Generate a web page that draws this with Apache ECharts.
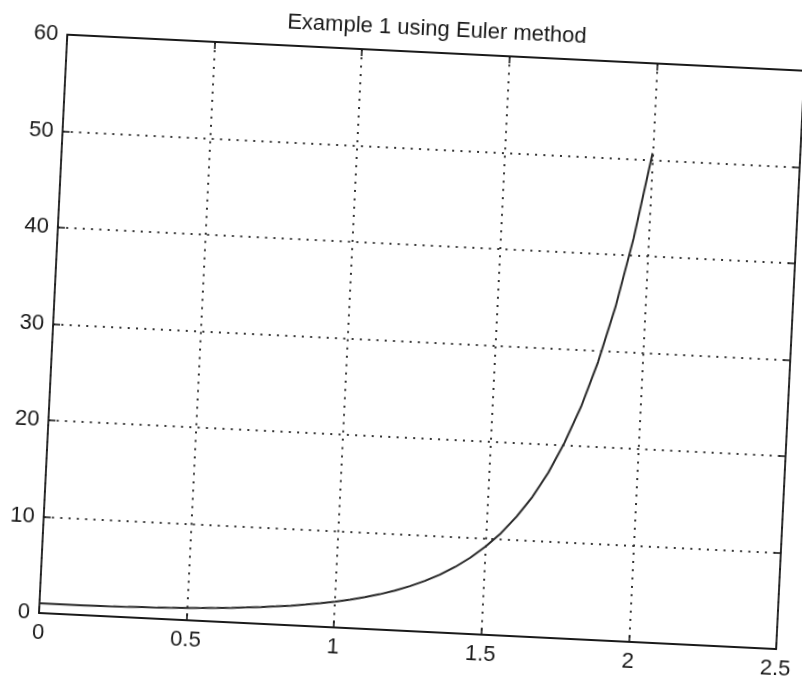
<!DOCTYPE html>
<html>
<head>
<meta charset="utf-8">
<title>Example 1 using Euler method</title>
<script src="https://cdn.jsdelivr.net/npm/echarts@6/dist/echarts.min.js"></script>
<style>
  html, body { margin: 0; padding: 0; background: #ffffff; overflow: hidden; }
  #chart {
    position: absolute; left: 0; top: 0;
    width: 802px; height: 683px;
    transform-origin: 39px 613px;
    transform: rotate(2.8deg);
  }
</style>
</head>
<body>
<div id="chart"></div>
<script>
// Euler solution samples: x and y
const xValues = [0, 0.05, 0.1, 0.15, 0.2, 0.25, 0.3, 0.35, 0.4, 0.45,
                 0.5, 0.55, 0.6, 0.65, 0.7, 0.75, 0.8, 0.85, 0.9, 0.95,
                 1.0, 1.05, 1.1, 1.15, 1.2, 1.25, 1.3, 1.35, 1.4, 1.45,
                 1.5, 1.55, 1.6, 1.65, 1.7, 1.75, 1.8, 1.85, 1.9, 1.95, 2.0];
const yValues = [1.00, 1.00, 1.01, 1.02, 1.04, 1.06, 1.09, 1.13, 1.17, 1.22,
                 1.28, 1.34, 1.42, 1.51, 1.62, 1.74, 1.88, 2.03, 2.22, 2.43,
                 2.67, 2.96, 3.29, 3.67, 4.12, 4.65, 5.27, 6.00, 6.87, 7.90,
                 9.14, 10.6, 12.4, 14.5, 17.1, 20.3, 24.1, 28.8, 34.6, 41.8, 50.7];

const xTicks = [0, 0.5, 1, 1.5, 2, 2.5];
const yTicks = [0, 10, 20, 30, 40, 50, 60];
const titleText = 'Example 1 using Euler method';

const FONT = '"Liberation Sans", Arial, Helvetica, sans-serif';
const INK = '#1a1a1a';

const chart = echarts.init(document.getElementById('chart'), null, { renderer: 'canvas' });

const boxLine = { show: true, onZero: false, lineStyle: { color: INK, width: 1.8 } };
const innerTick = { show: true, inside: true, length: 7, lineStyle: { color: INK, width: 1.6 } };
const dotted = { show: true, lineStyle: { color: '#333', width: 2, type: [2, 6.3] } };

chart.setOption({
  animation: false,
  backgroundColor: '#ffffff',
  title: {
    text: titleText,
    left: 408,
    top: 0,
    padding: 0,
    textAlign: 'center',
    textStyle: { fontFamily: FONT, fontSize: 22, fontWeight: 'normal', color: INK }
  },
  grid: { left: 39, top: 34, width: 738, height: 579, containLabel: false, outerBoundsMode: 'none' },
  xAxis: [
    {
      type: 'value', position: 'bottom',
      min: xTicks[0], max: xTicks[xTicks.length - 1], interval: 0.5,
      axisLine: boxLine, axisTick: innerTick, splitLine: dotted,
      axisLabel: { margin: 9, fontFamily: FONT, fontSize: 22, color: INK,
                   formatter: v => String(v) }
    },
    {
      type: 'value', position: 'top',
      min: xTicks[0], max: xTicks[xTicks.length - 1], interval: 0.5,
      axisLine: boxLine, axisTick: innerTick, splitLine: { show: false },
      axisLabel: { show: false }
    }
  ],
  yAxis: [
    {
      type: 'value', position: 'left',
      min: yTicks[0], max: yTicks[yTicks.length - 1], interval: 10,
      axisLine: boxLine, axisTick: innerTick, splitLine: dotted,
      axisLabel: { margin: 9, fontFamily: FONT, fontSize: 22, color: INK,
                   formatter: v => String(v) }
    },
    {
      type: 'value', position: 'right',
      min: yTicks[0], max: yTicks[yTicks.length - 1], interval: 10,
      axisLine: boxLine, axisTick: innerTick, splitLine: { show: false },
      axisLabel: { show: false }
    }
  ],
  series: [
    {
      type: 'line',
      xAxisIndex: 0, yAxisIndex: 0,
      data: xValues.map((x, i) => [x, yValues[i]]),
      showSymbol: false,
      smooth: false,
      lineStyle: { color: '#2a2a2a', width: 2 },
      z: 5
    }
  ]
});
</script>
</body>
</html>
